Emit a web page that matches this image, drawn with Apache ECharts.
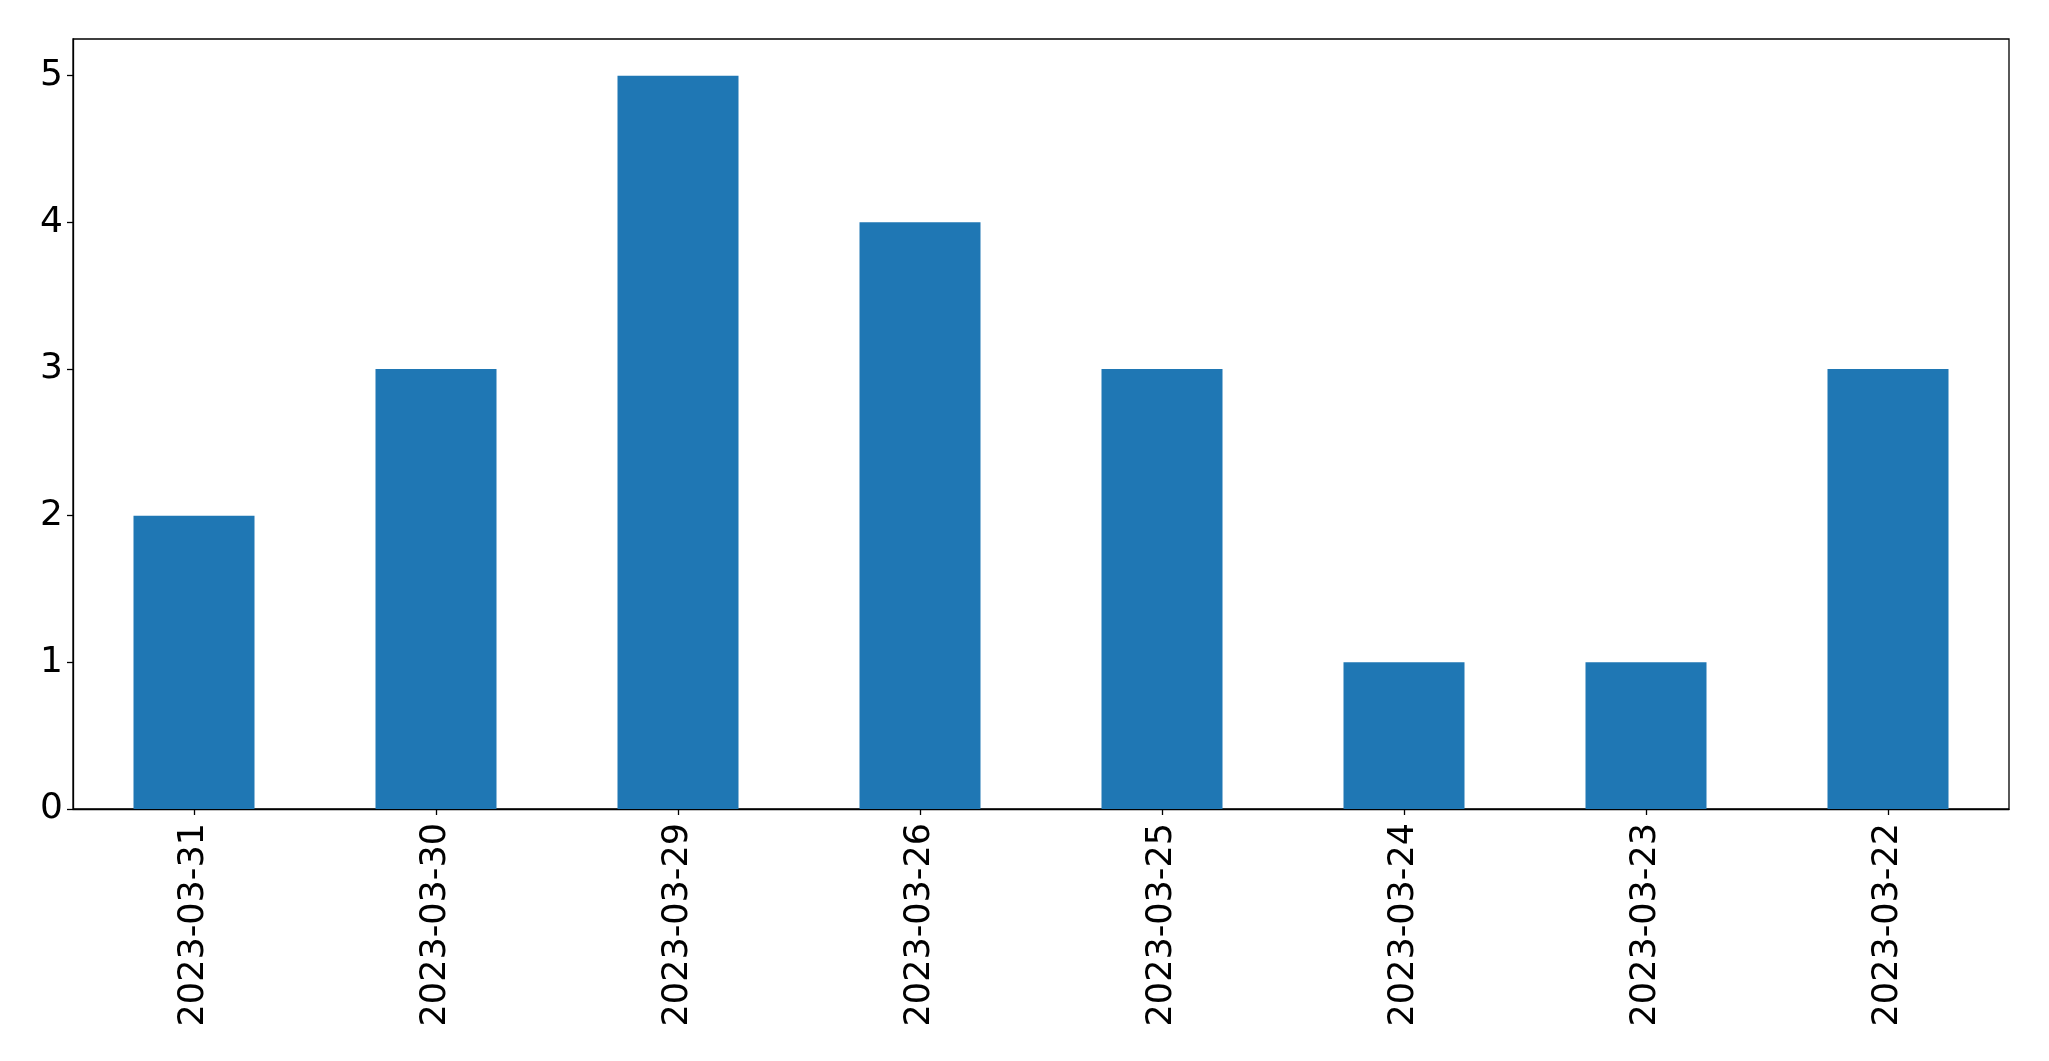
<!DOCTYPE html>
<html>
<head>
<meta charset="utf-8">
<script src="https://cdn.jsdelivr.net/npm/echarts@6/dist/echarts.min.js"></script>
<style>
html,body{margin:0;padding:0;background:#fff;}
#chart{width:2049px;height:1061px;}
</style>
</head>
<body>
<div id="chart"></div>
<script>
const categories = ["2023-03-31","2023-03-30","2023-03-29","2023-03-26","2023-03-25","2023-03-24","2023-03-23","2023-03-22"];
const counts = [2,3,5,4,3,1,1,3];
const yTicks = [0,1,2,3,4,5];

const chart = echarts.init(document.getElementById('chart'), null, {renderer:'canvas'});
chart.setOption({
  animation:false,
  backgroundColor:'#ffffff',
  grid:{left:73,right:40,top:39,bottom:252,show:true,borderColor:'#000',borderWidth:1.3,backgroundColor:'transparent'},
  xAxis:{
    type:'category',
    data:categories,
    boundaryGap:true,
    axisLine:{show:true,lineStyle:{color:'#000',width:1.3}},
    axisTick:{show:true,alignWithLabel:true,length:6,lineStyle:{color:'#000',width:1.3}},
    axisLabel:{rotate:90,margin:14,color:'#000',fontSize:35,fontFamily:'DejaVu Sans',interval:0},
    splitLine:{show:false}
  },
  yAxis:{
    type:'value',
    min:0,max:5.25,interval:1,
    axisLine:{show:true,lineStyle:{color:'#000',width:1.3}},
    axisTick:{show:true,length:6,customValues:yTicks,lineStyle:{color:'#000',width:1.3}},
    axisLabel:{margin:10,color:'#000',fontSize:36,fontFamily:'DejaVu Sans',customValues:yTicks},
    splitLine:{show:false}
  },
  series:[{
    type:'bar',
    data:counts,
    barWidth:'50%',
    itemStyle:{color:'#1f77b4'}
  }]
});
</script>
</body>
</html>
